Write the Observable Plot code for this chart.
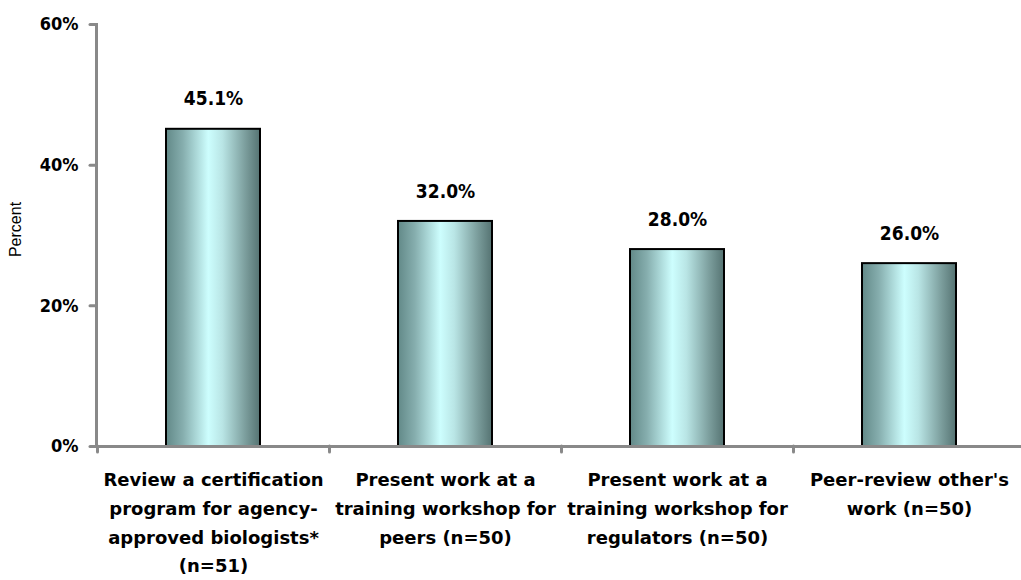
<!DOCTYPE html>
<html>
<head>
<meta charset="utf-8">
<script src="https://cdn.jsdelivr.net/npm/d3@7"></script>
<script src="https://cdn.jsdelivr.net/npm/@observablehq/plot@0.6"></script>
<style>
  html, body { margin: 0; padding: 0; background: #fff; }
  #chart svg { display: block; }
</style>
</head>
<body>
<div id="chart"></div>
<script>
const categories = [
  "Review a certification\nprogram for agency-\napproved biologists*\n(n=51)",
  "Present work at a\ntraining workshop for\npeers (n=50)",
  "Present work at a\ntraining workshop for\nregulators (n=50)",
  "Peer-review other's\nwork (n=50)"
];
const values = [45.1, 32.0, 28.0, 26.0];
const yTicks = [0, 20, 40, 60];
const yLabel = "Percent";

const data = categories.map((c, i) => ({category: c, value: values[i]}));
const axisGray = "#898989";

const chart = Plot.plot({
  width: 1021,
  height: 580,
  marginLeft: 96,
  marginRight: -4,
  marginTop: 24,
  marginBottom: 134,
  style: {fontFamily: "'DejaVu Sans', sans-serif", color: "black", background: "white"},
  x: {domain: categories, paddingInner: 0.595, paddingOuter: 0.2975, axis: null},
  y: {domain: [0, 60], axis: null},
  marks: [
    Plot.barY(data, {x: "category", y: "value", fill: "url(#barGrad)", stroke: "black", strokeWidth: 2}),
    Plot.text(data, {x: "category", y: "value", text: d => d3.format(".1f")(d.value) + "%",
      dy: -30, fontSize: 19, fontWeight: "bold", fill: "black"}),
    Plot.ruleY([0], {stroke: axisGray, strokeWidth: 3}),
    Plot.frame({anchor: "left", stroke: axisGray, strokeWidth: 3}),
    Plot.axisX({tickSize: 6, tickFormat: () => "", label: null, dx: -116, stroke: axisGray, strokeWidth: 3, strokeLinecap: "round"}),
    Plot.axisY({ticks: yTicks, tickFormat: d => d + "%", tickSize: 6, tickPadding: 12,
      stroke: axisGray, strokeWidth: 3, strokeLinecap: "round", fill: "black",
      fontSize: 18, fontWeight: "bold", label: null}),
    Plot.text(data, {x: "category", y: 0, text: "category", lineAnchor: "top", dy: 19,
      lineHeight: 1.6, fontSize: 18, fontWeight: "bold", fill: "black"}),
    Plot.text([yLabel], {frameAnchor: "left", text: d => d, rotate: -90, dx: -81, dy: -6,
      textAnchor: "middle", fontSize: 16, fontFamily: "'Liberation Sans', sans-serif", fill: "black"})
  ]
});

// percentage labels (values and y ticks) use the condensed face
d3.select(chart).selectAll("text")
  .filter(function() { return /%$/.test(this.textContent.trim()); })
  .style("font-stretch", "condensed");

d3.select(chart).insert("defs", ":first-child").html(`
  <linearGradient id="barGrad" x1="0" y1="0" x2="1" y2="0">
    <stop offset="0" stop-color="#628988"/>
    <stop offset="0.18" stop-color="#86aeae"/>
    <stop offset="0.45" stop-color="#cdfefe"/>
    <stop offset="0.6" stop-color="#b9e5e5"/>
    <stop offset="0.85" stop-color="#7a9c9b"/>
    <stop offset="1" stop-color="#557372"/>
  </linearGradient>`);

document.getElementById("chart").appendChild(chart);
</script>
</body>
</html>
